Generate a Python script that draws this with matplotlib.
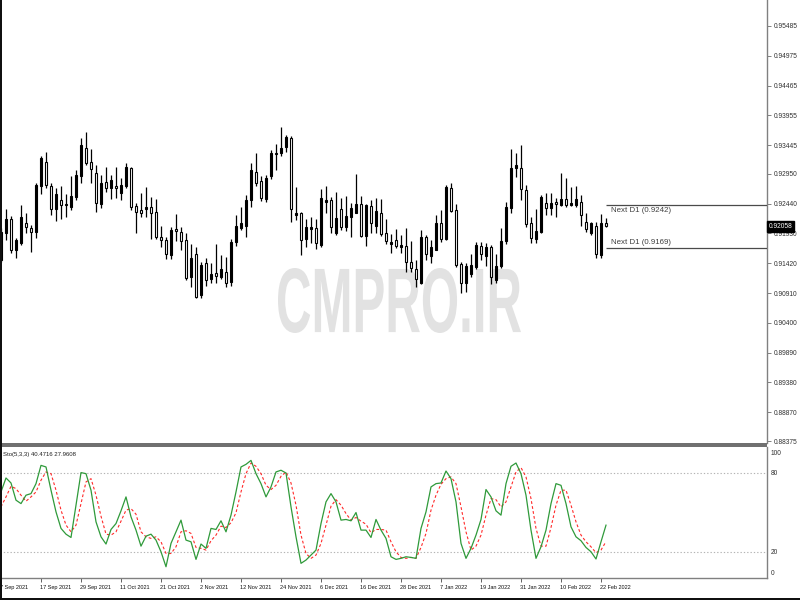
import matplotlib
matplotlib.use('Agg')
import matplotlib.pyplot as plt
from matplotlib.patches import Rectangle, PathPatch
from matplotlib.textpath import TextPath
from matplotlib.font_manager import FontProperties
from matplotlib.transforms import Affine2D, blended_transform_factory
import numpy as np

# ---------------- data ----------------
opens = [0.91476, 0.91939, 0.92179, 0.91648, 0.91767, 0.92110, 0.92024, 0.91956, 0.92744, 0.93155,
         0.92744, 0.92350, 0.92504, 0.92436, 0.92384, 0.92555, 0.92915, 0.93395, 0.93155, 0.92967,
         0.92436, 0.92812, 0.92710, 0.92744, 0.92624, 0.92744, 0.93053, 0.92401, 0.92333, 0.92350,
         0.92384, 0.92298, 0.91870, 0.91819, 0.91562, 0.92007, 0.91956, 0.91819, 0.91185, 0.91579,
         0.90877, 0.91425, 0.91151, 0.91253, 0.91185, 0.91271, 0.91099, 0.91785, 0.92024, 0.92059,
         0.92504, 0.92984, 0.92830, 0.92521, 0.92915, 0.93310, 0.93310, 0.93412, 0.93566, 0.92247,
         0.92281, 0.91836, 0.92007, 0.92024, 0.91733, 0.92470, 0.92504, 0.91939, 0.92350, 0.92042,
         0.92213, 0.92281, 0.92436, 0.91887, 0.92401, 0.92059, 0.92281, 0.91939, 0.91750, 0.91819,
         0.91699, 0.91716, 0.91442, 0.91322, 0.91082, 0.91870, 0.91545, 0.91648, 0.92110, 0.91836,
         0.92710, 0.92333, 0.91408, 0.91082, 0.91236, 0.91356, 0.91716, 0.91545, 0.91699, 0.91134,
         0.91373, 0.91802, 0.92367, 0.93053, 0.93053, 0.92675, 0.92110, 0.91836, 0.91956, 0.92453,
         0.92367, 0.92470, 0.92418, 0.92521, 0.92418, 0.92418, 0.92470, 0.92127, 0.91939, 0.92059,
         0.91562, 0.92110]
highs = [0.92024, 0.92350, 0.92230, 0.91853, 0.92418, 0.92281, 0.92076, 0.92795, 0.93258, 0.93327,
         0.92795, 0.92710, 0.92744, 0.92607, 0.92915, 0.93018, 0.93566, 0.93669, 0.93378, 0.93104,
         0.92932, 0.93070, 0.92932, 0.93070, 0.92881, 0.93138, 0.93070, 0.92453, 0.92624, 0.92727,
         0.92555, 0.92521, 0.92059, 0.91870, 0.92042, 0.92264, 0.92042, 0.91939, 0.91750, 0.91699,
         0.91442, 0.91510, 0.91425, 0.91750, 0.91562, 0.91528, 0.91836, 0.92247, 0.92384, 0.92590,
         0.93138, 0.93310, 0.92915, 0.92932, 0.93361, 0.93464, 0.93755, 0.93618, 0.93601, 0.92727,
         0.92298, 0.92179, 0.92213, 0.92179, 0.92692, 0.92744, 0.92555, 0.92641, 0.92538, 0.92573,
         0.92453, 0.92950, 0.92573, 0.92436, 0.92504, 0.92538, 0.92521, 0.92179, 0.91922, 0.92007,
         0.91904, 0.92024, 0.91802, 0.91476, 0.91990, 0.91904, 0.91819, 0.92247, 0.92333, 0.92761,
         0.92795, 0.92436, 0.91442, 0.91425, 0.91579, 0.91785, 0.91785, 0.91767, 0.91733, 0.91579,
         0.92024, 0.92470, 0.93378, 0.93310, 0.93447, 0.92761, 0.92213, 0.92350, 0.92590, 0.92624,
         0.92624, 0.92538, 0.92967, 0.92881, 0.92727, 0.92744, 0.92590, 0.92281, 0.92127, 0.92127,
         0.92264, 0.92196]
lows = [0.91442, 0.91819, 0.91596, 0.91510, 0.91733, 0.91939, 0.91613, 0.91853, 0.92607, 0.92710,
        0.92247, 0.92144, 0.92179, 0.92213, 0.92333, 0.92504, 0.92795, 0.93104, 0.92795, 0.92298,
        0.92367, 0.92641, 0.92521, 0.92538, 0.92504, 0.92710, 0.92333, 0.91939, 0.92213, 0.92213,
        0.91836, 0.91836, 0.91699, 0.91493, 0.91493, 0.91802, 0.91648, 0.91134, 0.91014, 0.90825,
        0.90825, 0.91031, 0.91082, 0.91082, 0.91151, 0.91014, 0.91031, 0.91716, 0.91990, 0.91870,
        0.92384, 0.92744, 0.92487, 0.92470, 0.92864, 0.93018, 0.93258, 0.93327, 0.92127, 0.92161,
        0.91562, 0.91699, 0.91767, 0.91665, 0.91699, 0.92281, 0.91939, 0.91904, 0.91990, 0.91973,
        0.91870, 0.92281, 0.91870, 0.91716, 0.91939, 0.91939, 0.91887, 0.91750, 0.91596, 0.91682,
        0.91596, 0.91271, 0.91271, 0.91014, 0.91065, 0.91476, 0.91425, 0.91648, 0.91785, 0.91819,
        0.92298, 0.91356, 0.90911, 0.90928, 0.91185, 0.91322, 0.91476, 0.91373, 0.91065, 0.91082,
        0.91339, 0.91750, 0.92281, 0.92898, 0.92504, 0.92042, 0.91767, 0.91767, 0.91939, 0.92247,
        0.92247, 0.92213, 0.92401, 0.92384, 0.92401, 0.92384, 0.92059, 0.91956, 0.91904, 0.91510,
        0.91510, 0.92042]
closes = [0.91956, 0.92179, 0.91648, 0.91819, 0.92213, 0.92042, 0.91956, 0.92761, 0.93224, 0.92761,
          0.92350, 0.92607, 0.92418, 0.92418, 0.92573, 0.92932, 0.93447, 0.93138, 0.93035, 0.92453,
          0.92795, 0.92710, 0.92847, 0.92710, 0.92761, 0.93070, 0.92384, 0.92298, 0.92281, 0.92384,
          0.92281, 0.91870, 0.91819, 0.91579, 0.91990, 0.91973, 0.91802, 0.91168, 0.91510, 0.90842,
          0.91391, 0.91134, 0.91236, 0.91202, 0.91322, 0.91082, 0.91785, 0.92059, 0.92110, 0.92504,
          0.93018, 0.92795, 0.92538, 0.92881, 0.93310, 0.93292, 0.93395, 0.93584, 0.92350, 0.92281,
          0.91819, 0.92042, 0.92042, 0.91767, 0.92538, 0.92504, 0.92042, 0.92196, 0.92042, 0.92230,
          0.92367, 0.92436, 0.91887, 0.92418, 0.92110, 0.92316, 0.91922, 0.91802, 0.91785, 0.91716,
          0.91733, 0.91442, 0.91339, 0.91151, 0.91870, 0.91579, 0.91699, 0.92110, 0.91836, 0.92727,
          0.92316, 0.91391, 0.91082, 0.91373, 0.91391, 0.91733, 0.91579, 0.91699, 0.91185, 0.91373,
          0.91802, 0.92384, 0.93053, 0.93104, 0.92692, 0.92093, 0.91853, 0.91973, 0.92555, 0.92367,
          0.92453, 0.92436, 0.92521, 0.92418, 0.92453, 0.92521, 0.92247, 0.92007, 0.92110, 0.91579,
          0.92110, 0.92058]

stoch_k = [65.8, 76.4, 72.6, 59.5, 56.9, 63.3, 64.5, 72.1, 86.0, 84.8,
           67.1, 50.6, 38.0, 33.6, 31.1, 55.7, 80.5, 79.7, 67.1, 43.0,
           31.6, 26.1, 37.2, 41.7, 51.4, 62.0, 46.8, 36.7, 24.5, 32.1,
           33.6, 29.1, 20.2, 8.8, 26.6, 35.4, 44.3, 29.1, 27.8, 14.4,
           26.1, 22.8, 38.0, 37.2, 43.8, 35.4, 48.1, 65.8, 84.8, 86.8,
           89.8, 79.7, 72.1, 62.0, 69.6, 81.0, 82.3, 80.2, 54.4, 31.6,
           11.4, 13.9, 17.7, 21.5, 41.7, 58.2, 64.5, 58.2, 44.3, 44.8,
           43.8, 50.1, 36.7, 36.7, 31.1, 44.8, 36.7, 30.4, 16.4, 14.4,
           15.2, 16.4, 15.9, 15.2, 38.0, 50.6, 69.6, 72.1, 72.6, 81.7,
           75.9, 58.2, 26.6, 15.2, 22.8, 32.9, 44.8, 67.6, 62.0, 51.4,
           48.1, 72.1, 85.3, 87.8, 79.7, 63.3, 36.7, 15.2, 24.0, 36.7,
           56.9, 72.1, 70.8, 56.9, 39.2, 31.6, 28.6, 23.5, 20.2, 14.7,
           27.8, 40.4716]
stoch_d = [54.4, 62.0, 70.1, 68.3, 63.3, 58.7, 62.0, 65.8, 74.7, 81.0,
           79.7, 67.1, 51.9, 40.5, 35.4, 40.5, 56.9, 73.4, 75.9, 63.3,
           47.3, 33.6, 32.9, 35.4, 43.5, 51.9, 53.1, 48.8, 35.4, 31.6,
           30.4, 31.6, 27.8, 18.9, 18.9, 24.0, 35.4, 36.2, 34.2, 23.5,
           22.8, 21.5, 28.6, 32.9, 39.7, 38.7, 42.3, 49.9, 65.8, 79.7,
           87.8, 85.3, 79.7, 70.8, 67.6, 70.8, 77.7, 81.0, 72.6, 55.7,
           32.9, 18.9, 15.2, 17.7, 26.6, 40.5, 54.9, 59.9, 55.7, 49.3,
           44.3, 46.3, 43.5, 41.2, 34.7, 37.2, 37.2, 36.7, 27.8, 20.2,
           15.9, 15.2, 15.9, 15.2, 23.5, 34.2, 51.9, 63.3, 71.6, 75.9,
           77.2, 72.1, 54.4, 35.4, 21.5, 24.5, 32.9, 48.1, 60.7, 59.9,
           54.4, 58.2, 69.6, 81.0, 84.3, 77.2, 60.7, 38.0, 24.5, 24.5,
           38.7, 55.7, 67.1, 67.1, 55.7, 43.0, 32.9, 27.8, 24.0, 19.5,
           21.5, 27.9608]

date_labels = ['7 Sep 2021', '17 Sep 2021', '29 Sep 2021', '11 Oct 2021', '21 Oct 2021',
               '2 Nov 2021', '12 Nov 2021', '24 Nov 2021', '6 Dec 2021', '16 Dec 2021',
               '28 Dec 2021', '7 Jan 2022', '19 Jan 2022', '31 Jan 2022', '10 Feb 2022',
               '22 Feb 2022']
date_label_bars = [0, 8, 16, 24, 32, 40, 48, 56, 64, 72, 80, 88, 96, 104, 112, 120]

price_ticks = [0.95485, 0.94975, 0.94465, 0.93955, 0.93445, 0.92950, 0.92440, 0.91930,
               0.91420, 0.90910, 0.90400, 0.89890, 0.89380, 0.88870, 0.88375]
current_price = 0.92058
next_levels = [0.9242, 0.9169]
stoch_levels = [20, 80]
stoch_scale_labels = ['100', '80', '20', '0']
stoch_scale_values = [95.2, 80, 20, 4.0]
stoch_title = 'Sto(5,3,3)'
watermark_text = 'CMPRO.IR'

# ---------------- figure ----------------
FONT = ['Liberation Sans', 'DejaVu Sans']
plt.rcParams['font.family'] = FONT

W, H = 800, 600
fig = plt.figure(figsize=(8, 6), dpi=100, facecolor='white')

axis_right = 767
main_top, main_bot = 0, 443
sto_top, sto_bot = 447, 578.3

ax = fig.add_axes([0, (H - main_bot) / H, axis_right / W, (main_bot - main_top) / H])
ax2 = fig.add_axes([0, (H - sto_bot) / H, axis_right / W, (sto_bot - sto_top) / H])

n = len(closes)
x = np.arange(n)
xlim = (-0.2, 153.2)

# ---- main candles ----
ax.set_xlim(*xlim)
ax.set_ylim(0.88341, 0.95930)
ax.vlines(x, lows, highs, color='black', lw=0.9, zorder=2)
bw = 0.5
for i in range(n):
    o, c = opens[i], closes[i]
    lo, hi = min(o, c), max(o, c)
    bull = c >= o
    if hi - lo < 0.00003:
        ax.hlines((o + c) / 2, i - bw / 2 - 0.1, i + bw / 2 + 0.1, color='black', lw=1.0, zorder=3)
    else:
        ax.add_patch(Rectangle((i - bw / 2, lo), bw, hi - lo,
                               facecolor='black' if bull else 'white',
                               edgecolor='black', lw=0.8, zorder=3))

for s in ['top', 'left', 'bottom']:
    ax.spines[s].set_visible(False)
ax.spines['right'].set_color('#808080')
ax.spines['right'].set_linewidth(1.0)
ax.set_xticks([])
ax.yaxis.tick_right()
ax.set_yticks(price_ticks)
ax.set_yticklabels(['%.5f' % v for v in price_ticks])
ax.tick_params(axis='y', direction='out', length=3, width=0.7, color='#808080',
               labelsize=4.8, pad=1.5, labelcolor='#303030')

# watermark
fp = FontProperties(family='Liberation Sans', weight='bold')
tp = TextPath((0, 0), watermark_text, size=100, prop=fp)
ext = tp.get_extents()
wx0, wx1, wy0, wy1 = 278, 521, H - 333, H - 268
trans = Affine2D().translate(-ext.x0, -ext.y0).scale((wx1 - wx0) / ext.width,
                                                     (wy1 - wy0) / ext.height).translate(wx0, wy0)
wm = PathPatch(tp, transform=trans, facecolor='#e2e2e2', edgecolor='none', zorder=0.5)
wm.set_clip_on(False)
ax.add_artist(wm)

# next D1 levels
for k, lev in enumerate(next_levels):
    ax.hlines(lev, 120.9, xlim[1], color='#4a4a4a', lw=0.9, zorder=4)
    if k == 0:
        ax.text(122, lev - 0.00035, 'Next D1 (%.4f)' % lev, fontsize=5.7, color='#404040',
                va='top', ha='left', zorder=5)
    else:
        ax.text(122, lev + 0.00030, 'Next D1 (%.4f)' % lev, fontsize=5.7, color='#404040',
                va='bottom', ha='left', zorder=5)

# current price box
bt = blended_transform_factory(ax.transAxes, ax.transData)
ax.text(1.0 + 1.5 / axis_right, current_price, '%.5f' % current_price, transform=bt,
        fontsize=4.8, color='white', ha='left', va='center', zorder=20, clip_on=False,
        bbox=dict(boxstyle='square,pad=0.3', facecolor='black', edgecolor='black'))

# ---- stochastic ----
ax2.set_xlim(*xlim)
ax2.set_ylim(0, 100)
for lv in stoch_levels:
    ax2.axhline(lv, color='#b4b4b4', lw=0.8, ls=(0, (1.2, 1.8)), zorder=1)
ax2.plot(x, stoch_k, color='#2f9a3a', lw=0.9, zorder=3)
ax2.plot(x, stoch_d, color='#ff2a2a', lw=0.8, ls=(0, (2.5, 2.0)), zorder=2)

for s in ['top', 'left']:
    ax2.spines[s].set_visible(False)
for s in ['right', 'bottom']:
    ax2.spines[s].set_color('#808080')
    ax2.spines[s].set_linewidth(1.0)
ax2.set_yticks([])
ax2.set_xticks(date_label_bars)
ax2.set_xticklabels([])
ax2.tick_params(axis='x', direction='out', length=3, width=0.7, color='#606060')

bt2 = blended_transform_factory(ax2.transAxes, ax2.transData)
for lab, v in zip(stoch_scale_labels, stoch_scale_values):
    ax2.text(1.0 + 4 / axis_right, v, lab, transform=bt2, fontsize=4.8, color='#303030',
             ha='left', va='center', clip_on=False)

ax2.text(0.004, 0.945, '%s %.4f %.4f' % (stoch_title, stoch_k[-1], stoch_d[-1]),
         transform=ax2.transAxes, fontsize=4.3, color='#202020', ha='left', va='center')

bt3 = blended_transform_factory(ax2.transData, ax2.transAxes)
for b, lab in zip(date_label_bars, date_labels):
    ax2.text(b - 0.3, -0.068, lab, transform=bt3, fontsize=4.0, color='#101010',
             ha='left', va='center', clip_on=False)

# separator band between panels
fig.patches.append(Rectangle((0, (H - sto_top) / H), axis_right / W, 4 / H,
                             transform=fig.transFigure, facecolor='#707070', edgecolor='none'))
# outer dark frame (left and bottom edges)
fig.patches.append(Rectangle((0, 0), 1.5 / W, 1, transform=fig.transFigure,
                             facecolor='#101010', edgecolor='none'))
fig.patches.append(Rectangle((0, 0), 1, 2 / H, transform=fig.transFigure,
                             facecolor='#101010', edgecolor='none'))

fig.savefig('out.png', dpi=100, facecolor='white')
